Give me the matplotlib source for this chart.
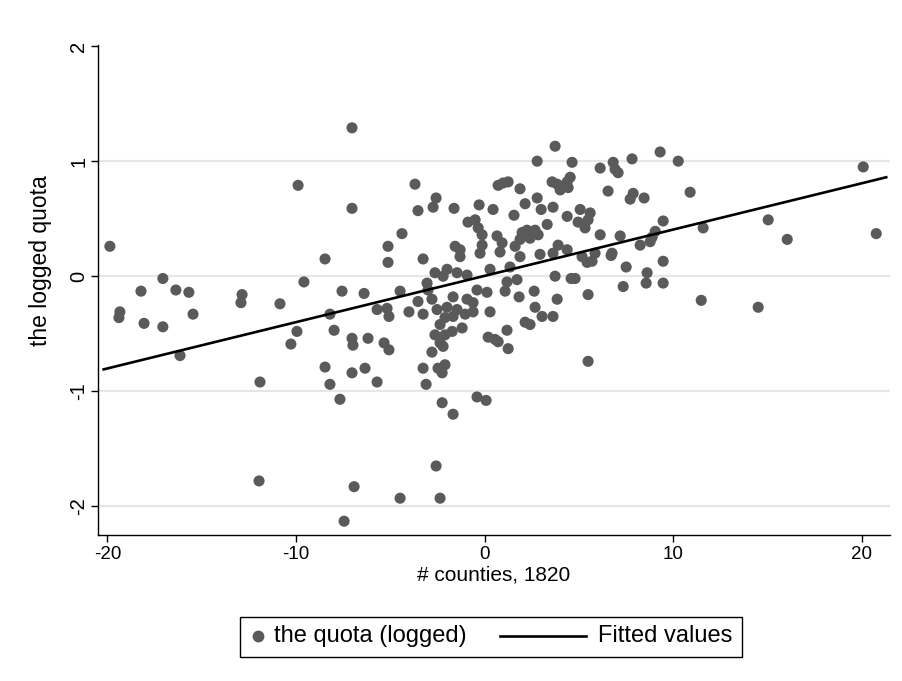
import matplotlib

matplotlib.use('Agg')
import matplotlib.pyplot as plt
from matplotlib.lines import Line2D
from matplotlib.patches import Rectangle

# values
counties = [
    -19.87, -9.89, -17.06, -18.22, -16.37, -15.68, -19.34, -19.39, -18.06, -17.06,
    -15.46, -12.86, -12.92, -10.85, -16.15, -11.91, -10.27, -9.95, -11.96, -7.03,
    -7.03, -3.69, -2.57, -2.73, -3.53, -4.38, -5.12, -8.46, -5.12, -3.26,
    -9.58, -7.56, -6.39, -4.48, -3.53, -5.70, -5.17, -5.07, -4.01, -8.20,
    -3.26, -7.98, -7.03, -6.98, -6.18, -5.33, -5.07, -8.46, -8.20, -7.03,
    -6.34, -5.70, -3.26, -3.10, -2.47, -2.25, -7.67, -2.25, -2.57, -6.92,
    -4.48, -2.36, -7.45, -1.67, -0.40, 0.08, 3.74, 2.79, 4.64, 0.98,
    1.25, 0.72, 1.88, 3.58, 3.85, 4.01, 4.38, 4.43, 4.54, -1.62,
    -0.29, 0.45, 2.15, 2.79, 3.00, 3.63, 1.56, 4.38, 5.07, -0.88,
    -0.50, -0.34, -0.13, -0.13, 0.66, 0.93, 1.99, 2.25, 2.68, 3.32,
    1.88, 2.41, 2.84, 1.62, 3.90, -1.56, -1.30, -0.24, 0.82, -1.99,
    -1.30, 1.88, 2.94, 3.63, 4.38, -2.20, -1.46, -0.93, 0.29, 1.35,
    3.74, 4.59, 1.19, 1.72, 1.09, 1.83, 2.63, 0.13, -0.40, -1.67,
    -0.93, -0.61, -1.99, -1.46, 0.29, -0.61, -2.10, -1.67, -1.03, 2.68,
    3.05, 3.63, 3.85, 2.15, 2.41, 1.19, 0.19, 0.56, -1.19, -1.72,
    -2.10, -2.36, -2.20, 1.25, -2.10, 0.72, 9.31, 7.82, 10.27, 6.82,
    6.92, 7.08, 6.13, 6.55, 7.88, 7.72, 8.46, 10.90, 5.60, 4.96,
    5.33, 5.49, 9.47, 6.13, 7.19, 8.25, 8.78, 9.05, 8.89, 11.59,
    5.86, 6.76, 5.17, 5.44, 5.70, 6.71, 7.51, 8.62, 9.47, 7.35,
    8.57, 9.47, 5.49, 11.49, 5.49, 4.80, 20.08, 15.04, 16.05, 20.77,
    14.51, -2.63, -3.05, -3.00, -2.79, -2.52, -2.36, -2.63, -2.79,
]
quota_logged = [
    0.26, 0.79, -0.02, -0.13, -0.12, -0.14, -0.31, -0.36, -0.41, -0.44,
    -0.33, -0.16, -0.23, -0.24, -0.69, -0.92, -0.59, -0.48, -1.78, 1.29,
    0.59, 0.80, 0.68, 0.60, 0.57, 0.37, 0.26, 0.15, 0.12, 0.15,
    -0.05, -0.13, -0.15, -0.13, -0.22, -0.29, -0.28, -0.35, -0.31, -0.33,
    -0.33, -0.47, -0.54, -0.60, -0.54, -0.58, -0.64, -0.79, -0.94, -0.84,
    -0.80, -0.92, -0.80, -0.94, -0.80, -0.84, -1.07, -1.10, -1.65, -1.83,
    -1.93, -1.93, -2.13, -1.20, -1.05, -1.08, 1.13, 1.00, 0.99, 0.81,
    0.82, 0.79, 0.76, 0.82, 0.80, 0.75, 0.82, 0.77, 0.86, 0.59,
    0.62, 0.58, 0.63, 0.68, 0.58, 0.60, 0.53, 0.52, 0.58, 0.47,
    0.49, 0.42, 0.36, 0.27, 0.35, 0.29, 0.38, 0.40, 0.40, 0.45,
    0.32, 0.33, 0.36, 0.26, 0.27, 0.26, 0.23, 0.20, 0.21, 0.06,
    0.17, 0.17, 0.19, 0.20, 0.23, 0.00, 0.03, 0.01, 0.06, 0.08,
    0.00, -0.02, -0.05, -0.03, -0.13, -0.18, -0.13, -0.14, -0.12, -0.18,
    -0.20, -0.23, -0.27, -0.29, -0.31, -0.31, -0.36, -0.35, -0.33, -0.27,
    -0.35, -0.35, -0.20, -0.40, -0.42, -0.47, -0.53, -0.55, -0.45, -0.48,
    -0.51, -0.58, -0.61, -0.63, -0.77, -0.57, 1.08, 1.02, 1.00, 0.99,
    0.93, 0.90, 0.94, 0.74, 0.72, 0.67, 0.68, 0.73, 0.55, 0.47,
    0.42, 0.49, 0.48, 0.36, 0.35, 0.27, 0.30, 0.39, 0.34, 0.42,
    0.20, 0.20, 0.17, 0.12, 0.13, 0.18, 0.08, 0.03, 0.13, -0.09,
    -0.06, -0.06, -0.16, -0.21, -0.74, -0.02, 0.95, 0.49, 0.32, 0.37,
    -0.27, 0.03, -0.06, -0.12, -0.20, -0.29, -0.42, -0.51, -0.66,
]

# fitted line, end points
fit_x = [-20.2, 21.3]
fit_y = [-0.81, 0.86]

x_ticks = [-20, -10, 0, 10, 20]
y_ticks = [-2, -1, 0, 1, 2]
legend_labels = ['the quota (logged)', 'Fitted values']

DOT = '#5a5a5a'
W, H = 902, 681


def fx(px):
    return px / W


def fy(py):
    return 1 - py / H


plt.rcParams['font.family'] = ['Liberation Sans', 'DejaVu Sans']

fig = plt.figure(figsize=(W / 100, H / 100), dpi=100)
ax = fig.add_axes([fx(98), fy(535), 792 / W, 490 / H])

for yv in y_ticks[:-1]:
    ax.axhline(yv, color='#e6e6e6', lw=1.6, zorder=0)

ax.scatter(counties, quota_logged, s=64, color=DOT, edgecolors='none', zorder=2)
ax.plot(fit_x, fit_y, color='black', lw=1.9, zorder=3)

ax.set_xlim(-20.5, 21.5)
ax.set_ylim(-2.25, 2.01)
ax.set_xticks(x_ticks)
ax.set_yticks(y_ticks)
ax.set_xticklabels([str(v) for v in x_ticks], fontsize=13.5)
ax.set_yticklabels([str(v) for v in y_ticks], fontsize=14.5, rotation=90, va='center')
ax.tick_params(length=5, width=1, color='black', pad=3)
ax.tick_params(axis='y', pad=2)

for side in ('top', 'right'):
    ax.spines[side].set_visible(False)
for side in ('left', 'bottom'):
    ax.spines[side].set_linewidth(1)
    ax.spines[side].set_color('black')

ax.set_xlabel('# counties, 1820', fontsize=15, labelpad=2)
ax.set_ylabel('the logged quota', fontsize=16.5)
ax.yaxis.set_label_coords(-0.058, 0.56)

# legend drawn by hand: short marker key, long line key
fig.add_artist(Rectangle((fx(240), fy(657)), 502 / W, 40 / H, transform=fig.transFigure,
                         facecolor='white', edgecolor='black', lw=1))
fig.add_artist(Line2D([fx(258)], [fy(636)], transform=fig.transFigure, marker='o',
                      ls='none', color=DOT, markersize=7.5))
fig.text(fx(274), fy(636), legend_labels[0], fontsize=17, va='center', ha='left')
fig.add_artist(Line2D([fx(500), fx(586)], [fy(636), fy(636)], transform=fig.transFigure,
                      color='black', lw=1.9))
fig.text(fx(598), fy(636), legend_labels[1], fontsize=17, va='center', ha='left')

fig.savefig('out.png', dpi=100, facecolor='white')
